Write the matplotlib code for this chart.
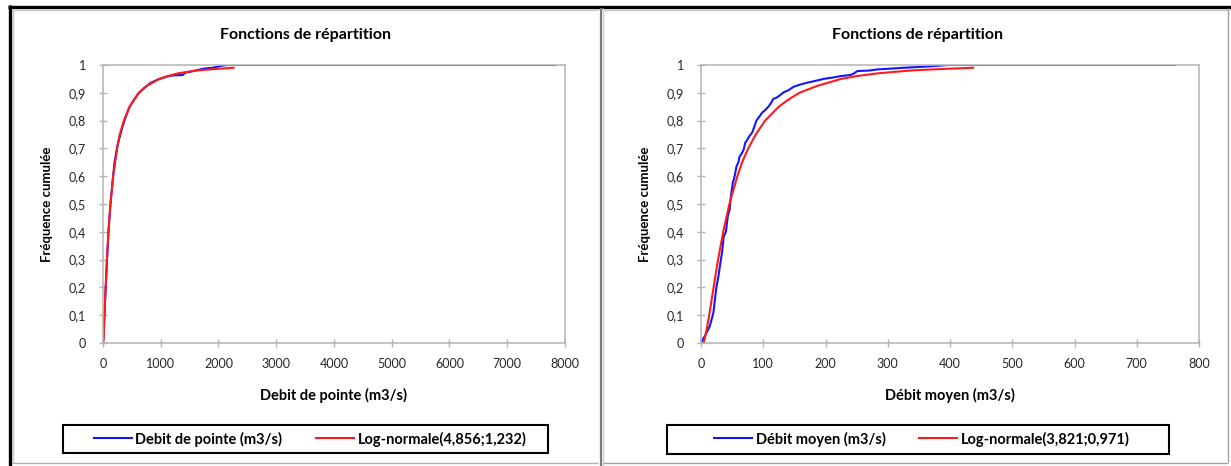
"""
Fonctions de répartition - débit de pointe / débit moyen
Deux panneaux façon Excel: courbe empirique (bleu) + ajustement log-normal (rouge)
"""

import matplotlib
matplotlib.use("Agg")
import matplotlib.pyplot as plt
from matplotlib.lines import Line2D
from matplotlib.patches import Rectangle

# ===================== DONNEES =====================
# panneau gauche : débit de pointe
POINTE_EMP_X = [0, 5, 15, 25, 35, 50, 70, 95, 130, 175, 200, 250, 300, 370, 450, 520,
                620, 700, 820, 950, 1100, 1180, 1380, 1420, 1600, 1750, 1900, 2050,
                2150, 7840]
POINTE_EMP_Y = [0, 0.01, 0.06, 0.10, 0.15, 0.21, 0.30, 0.40, 0.50, 0.60, 0.65, 0.71,
                0.75, 0.80, 0.845, 0.87, 0.90, 0.915, 0.935, 0.948, 0.958, 0.962,
                0.964, 0.972, 0.98, 0.987, 0.99, 0.997, 1.0, 1.0]
POINTE_LN_X = [0, 7, 10, 17, 26, 35, 46, 67, 94, 128, 176, 245, 290, 362, 461, 540,
               623, 760, 975, 1120, 1300, 1615, 1900, 2260]
POINTE_LN_Y = [0, 0.01, 0.02, 0.05, 0.10, 0.15, 0.20, 0.30, 0.40, 0.50, 0.60, 0.70,
               0.75, 0.80, 0.85, 0.875, 0.90, 0.925, 0.95, 0.96, 0.97, 0.98, 0.985,
               0.99]

# panneau droit : débit moyen
MOYEN_EMP_X = [0, 1.6, 9.7, 14, 17.7, 20, 22, 24.7, 28, 31, 34, 36.5, 40, 43, 46, 48,
               51, 54, 57, 60, 62, 65, 68.6, 71, 74, 78, 82, 86, 89, 94, 98, 104,
               109, 113, 116, 121, 125, 133, 141, 149, 160, 170, 184, 197, 212, 224,
               240, 246, 251, 270, 283, 305, 326, 350, 374, 396, 762]
MOYEN_EMP_Y = [0, 0.007, 0.04, 0.06, 0.09, 0.11, 0.15, 0.20, 0.24, 0.286, 0.33,
               0.383, 0.40, 0.455, 0.48, 0.527, 0.575, 0.60, 0.635, 0.65, 0.671,
               0.68, 0.696, 0.72, 0.73, 0.745, 0.756, 0.78, 0.80, 0.815, 0.828,
               0.84, 0.852, 0.865, 0.878, 0.882, 0.888, 0.902, 0.91, 0.922, 0.93,
               0.936, 0.943, 0.95, 0.955, 0.96, 0.964, 0.97, 0.978, 0.98, 0.984,
               0.987, 0.99, 0.993, 0.996, 1.0, 1.0]
MOYEN_LN_X = [4.5, 9.2, 13.2, 20.2, 27.4, 35.7, 45.6, 58.4, 66, 75.9, 88, 103, 125,
              140, 158, 187, 225, 250, 284, 335, 380, 437]
MOYEN_LN_Y = [0.0, 0.05, 0.10, 0.20, 0.30, 0.40, 0.50, 0.60, 0.65, 0.70, 0.75, 0.80,
              0.85, 0.875, 0.90, 0.925, 0.95, 0.96, 0.97, 0.98, 0.985, 0.99]

Y_TICKS = [0, 0.1, 0.2, 0.3, 0.4, 0.5, 0.6, 0.7, 0.8, 0.9, 1]
Y_TICK_LABELS = ["0", "0,1", "0,2", "0,3", "0,4", "0,5", "0,6", "0,7", "0,8", "0,9", "1"]
POINTE_X_TICKS = [0, 1000, 2000, 3000, 4000, 5000, 6000, 7000, 8000]
MOYEN_X_TICKS = [0, 100, 200, 300, 400, 500, 600, 700, 800]

TITLE = "Fonctions de répartition"
Y_LABEL = "Fréquence cumulée"
# ===================================================

W, H = 1231, 466
BLUE = "#1414ff"
RED = "#ff1a1a"
GREY = "#b4b4b4"

plt.rcParams["font.family"] = ["Lato", "DejaVu Sans"]


def px(x0, y0, x1, y1):
    """Pixel-Box (oben links Ursprung) -> Figure-Koordinaten [l, b, w, h]."""
    return [x0 / W, 1 - y1 / H, (x1 - x0) / W, (y1 - y0) / H]


def draw_panel(fig, box, xs_e, ys_e, xs_l, ys_l, xticks, xlabel, lab_e, lab_l,
               title_x, leg_box, leg_cx):
    ax = fig.add_axes(px(*box))
    ax.plot(xs_e, ys_e, color=BLUE, lw=1.5, label=lab_e)
    ax.plot(xs_l, ys_l, color=RED, lw=1.5, label=lab_l)

    ax.set_xlim(xticks[0], xticks[-1])
    ax.set_ylim(0, 1)
    ax.set_xticks(xticks)
    ax.set_xticklabels([str(t) for t in xticks])
    ax.set_yticks(Y_TICKS)
    ax.set_yticklabels(Y_TICK_LABELS)
    ax.tick_params(axis="both", direction="inout", length=6, width=1.0,
                   color=GREY, labelsize=9, labelcolor="#262626")
    ax.tick_params(axis="x", pad=8)
    ax.tick_params(axis="y", pad=9)
    for s in ax.spines.values():
        s.set_color(GREY)
        s.set_linewidth(1.1)

    bw = box[2] - box[0]
    bh = box[3] - box[1]
    ax.set_xlabel(xlabel, fontsize=10.5, fontweight="bold")
    ax.xaxis.set_label_coords(0.5, -(388 - box[3]) / bh)
    ax.set_ylabel(Y_LABEL, fontsize=9.5, fontweight="bold")
    ax.yaxis.set_label_coords(-50 / bw, 0.5)

    fig.text(title_x / W, 1 - 35 / H, TITLE, ha="center", va="center",
             fontsize=11.5, fontweight="bold")

    # Legende unten, Rahmen separat wie Excel
    fig.add_artist(Rectangle((leg_box[0] / W, 1 - leg_box[3] / H),
                             (leg_box[2] - leg_box[0]) / W,
                             (leg_box[3] - leg_box[1]) / H,
                             transform=fig.transFigure, fill=False,
                             edgecolor="black", lw=1.5))
    ax.legend(loc="center", bbox_to_anchor=(leg_cx / W, 1 - 439 / H),
              bbox_transform=fig.transFigure, ncol=2, frameon=False,
              handlelength=2.6, handletextpad=0.25, columnspacing=2.3,
              prop={"size": 10.5, "weight": "bold"})
    return ax


fig = plt.figure(figsize=(W / 100, H / 100), dpi=100)

draw_panel(fig, (103, 65, 565, 343), POINTE_EMP_X, POINTE_EMP_Y, POINTE_LN_X,
           POINTE_LN_Y, POINTE_X_TICKS, "Debit de pointe (m3/s)",
           "Debit de pointe (m3/s)", "Log-normale(4,856;1,232)",
           305, (63, 425, 548, 453), 310)
draw_panel(fig, (701, 65, 1199, 343), MOYEN_EMP_X, MOYEN_EMP_Y, MOYEN_LN_X,
           MOYEN_LN_Y, MOYEN_X_TICKS, "Débit moyen (m3/s)",
           "Débit moyen (m3/s)", "Log-normale(3,821;0,971)",
           918, (667, 425, 1169, 454), 922)

# Rahmen der beiden Panels
def fline(xs, ys, color, lw):
    fig.add_artist(Line2D([x / W for x in xs], [1 - y / H for y in ys],
                          transform=fig.transFigure, color=color, lw=lw,
                          solid_capstyle="butt"))

fline([8, W], [6.5, 6.5], "black", 2.4)
fline([9.5, 9.5], [5, H], "black", 2.4)
fline([12, 598], [10, 10], "#c8c8c8", 1.0)
fline([12.5, 12.5], [10, 462], "#c8c8c8", 1.0)
fline([12, 598], [462.5, 462.5], "#b0b0b0", 1.0)
fline([601, 601], [8, H], "#7a7a7a", 1.6)
fline([603, 603], [8, H], "#d0d0d0", 1.0)
fline([603, 1228], [10, 10], "#c8c8c8", 1.0)
fline([1228, 1228], [8, 462], "#a0a0a0", 1.0)
fline([603, 1228], [462.5, 462.5], "#a0a0a0", 1.0)

fig.savefig("out.png", dpi=100)
